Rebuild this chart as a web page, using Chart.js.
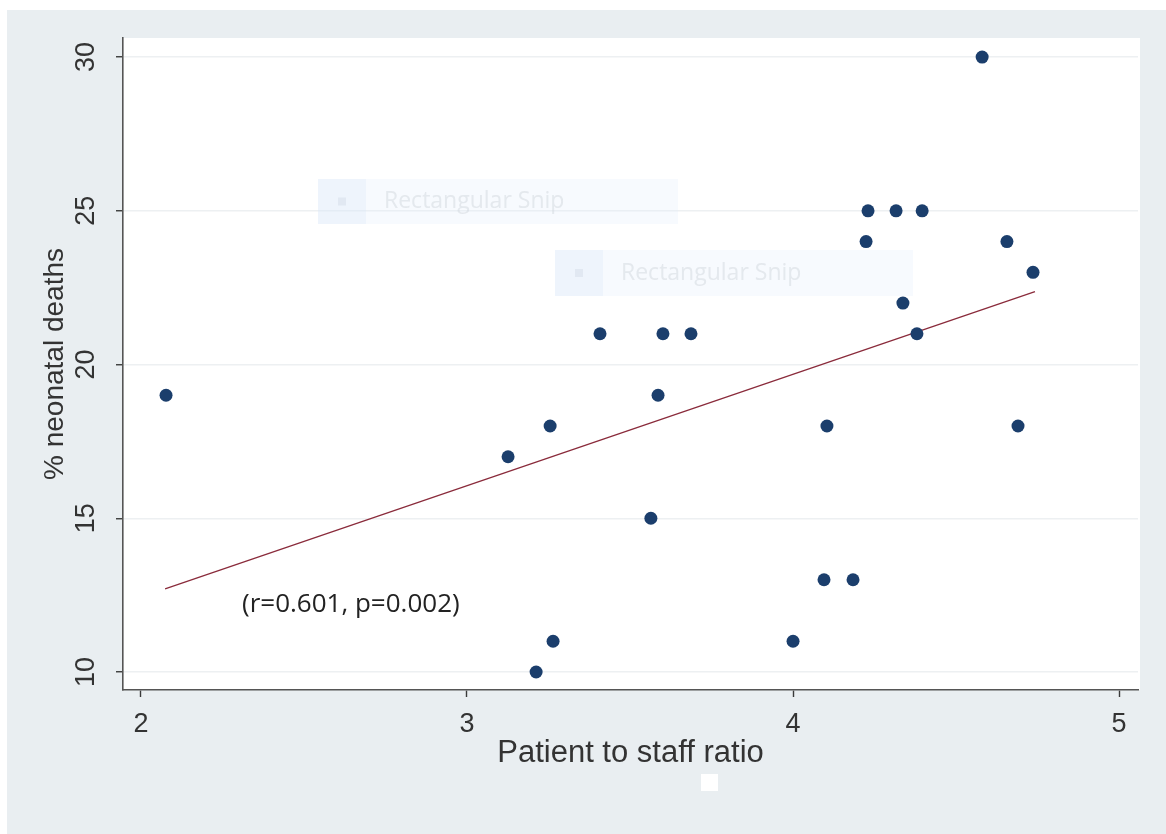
<!DOCTYPE html>
<html><head><meta charset="utf-8">
<script src="https://cdn.jsdelivr.net/npm/chart.js@4"></script>
<style>html,body{margin:0;padding:0;background:#fff;overflow:hidden}</style>
</head><body>
<canvas id="c" width="1166" height="834"></canvas>
<script>
// ---- data ----
const staffRatio     = [2.077, 3.126, 3.255, 3.212, 3.264, 3.408, 3.564, 3.586, 3.601, 3.687, 4.000, 4.095, 4.104, 4.184, 4.224, 4.230, 4.316, 4.337, 4.380, 4.396, 4.580, 4.656, 4.690, 4.736];
const neonatalDeaths = [19,    17,    18,    10,    11,    21,    15,    19,    21,    21,    11,    13,    18,    13,    24,    25,    25,    22,    21,    25,    30,    24,    18,    23];
const fitX = [2.074, 4.742];
const fitY = [12.70, 22.37];
const xTicks = [2, 3, 4, 5];
const yTicks = [10, 15, 20, 25, 30];
const xTitle = 'Patient to staff ratio';
const yTitle = '% neonatal deaths';
const annotationText = '(r=0.601, p=0.002)';
const annotationAt = [2.31, 12.18];
const snipLabel = 'Rectangular Snip';

const pts = staffRatio.map((x, i) => ({x: x, y: neonatalDeaths[i]}));
const fit = fitX.map((x, i) => ({x: x, y: fitY[i]}));

const bgPlugin = {
  id: 'bg',
  beforeDraw(chart) {
    const ctx = chart.ctx, a = chart.chartArea;
    ctx.save();
    ctx.fillStyle = '#ffffff';
    ctx.fillRect(0, 0, chart.width, chart.height);
    ctx.fillStyle = '#e9eef1';
    ctx.fillRect(7, 10, chart.width - 7, chart.height - 10);
    ctx.fillStyle = '#ffffff';
    ctx.fillRect(a.left, a.top, a.right - a.left + 2, a.bottom - a.top);
    ctx.restore();
  },
  beforeDatasetsDraw(chart) {
    const ctx = chart.ctx;
    ctx.save();
    const boxes = [[318, 179, 360, 45], [555, 250, 358, 46]];
    boxes.forEach(b => {
      ctx.fillStyle = 'rgba(225,236,250,0.28)';
      ctx.fillRect(b[0], b[1], b[2], b[3]);
      ctx.fillStyle = 'rgba(210,226,248,0.25)';
      ctx.fillRect(b[0], b[1], 48, b[3]);
      ctx.fillStyle = 'rgba(195,205,220,0.3)';
      ctx.fillRect(b[0] + 20, b[1] + b[3] / 2 - 4, 8, 8);
      ctx.fillStyle = 'rgba(210,215,222,0.5)';
      ctx.font = '23px "Open Sans", sans-serif';
      ctx.textBaseline = 'middle';
      ctx.textAlign = 'left';
      ctx.fillText(snipLabel, b[0] + 66, b[1] + b[3] / 2);
    });
    ctx.restore();
  },
  afterDatasetsDraw(chart) {
    const ctx = chart.ctx, xs = chart.scales.x, ys = chart.scales.y;
    ctx.save();
    ctx.fillStyle = '#222222';
    ctx.font = '26px "Open Sans", sans-serif';
    ctx.textBaseline = 'middle';
    ctx.textAlign = 'left';
    ctx.fillText(annotationText, xs.getPixelForValue(annotationAt[0]), ys.getPixelForValue(annotationAt[1]));
    ctx.fillStyle = '#ffffff';
    ctx.fillRect(701, 774, 17, 17);
    ctx.restore();
  }
};

new Chart(document.getElementById('c'), {
  type: 'scatter',
  data: {
    datasets: [
      {
        label: 'deaths',
        data: pts,
        backgroundColor: '#1b3e6c',
        borderColor: '#1b3e6c',
        borderWidth: 0,
        pointRadius: 6.5,
        pointStyle: 'circle',
        order: 0
      },
      {
        label: 'fit',
        type: 'line',
        data: fit,
        showLine: true,
        borderColor: '#8a2b3b',
        borderWidth: 1.3,
        pointRadius: 0,
        fill: false,
        order: 1
      }
    ]
  },
  options: {
    responsive: false,
    animation: false,
    devicePixelRatio: 1,
    layout: { padding: { left: 0, top: 38, right: 28, bottom: 0 } },
    plugins: { legend: { display: false }, tooltip: { enabled: false } },
    scales: {
      x: {
        type: 'linear',
        min: 1.945,
        max: 5.058,
        afterBuildTicks: s => { s.ticks = xTicks.map(v => ({value: v})); },
        afterFit: s => { s.height = 144; },
        grid: { drawOnChartArea: false, tickColor: '#3a3a3a', tickLength: 7, tickWidth: 1.4 },
        border: { color: '#555555', width: 1.6 },
        ticks: { autoSkip: false, color: '#333333', font: { family: '"Liberation Sans", Arial, sans-serif', size: 27 }, padding: 11, maxRotation: 0 },
        title: { display: true, text: xTitle, color: '#333333', font: { family: '"Liberation Sans", Arial, sans-serif', size: 31 }, padding: { top: 0, bottom: 62 } }
      },
      y: {
        type: 'linear',
        min: 9.414,
        max: 30.62,
        afterBuildTicks: s => { s.ticks = yTicks.map(v => ({value: v})); },
        afterFit: s => { s.width = 123; },
        grid: { color: '#edf0f2', lineWidth: 1.5, tickColor: '#3a3a3a', tickLength: 7, tickWidth: 1.4 },
        border: { color: '#555555', width: 1.6 },
        ticks: { autoSkip: false, color: '#333333', font: { family: '"Liberation Sans", Arial, sans-serif', size: 27 }, minRotation: 90, maxRotation: 90, crossAlign: 'center', padding: 14 },
        title: { display: true, text: yTitle, color: '#333333', font: { family: '"Liberation Sans", Arial, sans-serif', size: 28 }, padding: { top: 38, bottom: 0 } }
      }
    }
  },
  plugins: [bgPlugin]
});
</script>
</body></html>
